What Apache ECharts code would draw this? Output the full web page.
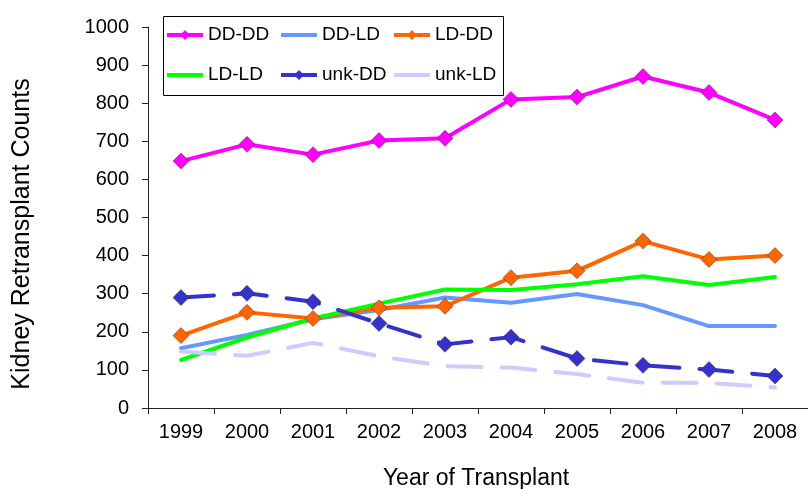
<!DOCTYPE html>
<html>
<head>
<meta charset="utf-8">
<script src="https://cdn.jsdelivr.net/npm/echarts@6/dist/echarts.min.js"></script>
<style>html,body{margin:0;padding:0;background:#fff}#c{width:808px;height:489px}</style>
</head>
<body>
<div id="c"></div>
<script>
const years = ['1999','2000','2001','2002','2003','2004','2005','2006','2007','2008'];
const ddDD  = [648, 692, 665, 702, 708, 810, 816, 870, 828, 756];
const ddLD  = [157, 192, 233, 257, 290, 276, 299, 270, 215, 215];
const ldDD  = [190, 251, 235, 263, 267, 342, 360, 438, 390, 400];
const ldLD  = [126, 185, 235, 274, 311, 310, 325, 346, 323, 344];
const unkDD = [290, 301, 279, 222, 167, 186, 130, 112, 101, 84];
const unkLD = [148, 137, 171, 136, 110, 106, 89, 66, 66, 54];
const yTicks = [0, 100, 200, 300, 400, 500, 600, 700, 800, 900, 1000];

const FONT = 'Liberation Sans, Arial, sans-serif';
const chart = echarts.init(document.getElementById('c'), null, {renderer: 'canvas'});

function mk(name, data, color, opts) {
  return {
    name, type: 'line', data,
    lineStyle: {color, width: 4, type: opts.dash || 'solid', cap: 'round', join: 'round'},
    itemStyle: {color, borderColor: 'rgba(60,30,30,0.45)', borderWidth: 1},
    symbol: opts.marker ? 'diamond' : 'none',
    symbolSize: 16,
    showSymbol: !!opts.marker,
    emphasis: {disabled: true},
    animation: false
  };
}

const series = [
  mk('DD-DD', ddDD, '#FF00FF', {marker: true}),
  mk('DD-LD', ddLD, '#6699FF', {}),
  mk('LD-DD', ldDD, '#FF6600', {marker: true}),
  mk('LD-LD', ldLD, '#00FF00', {}),
  mk('unk-DD', unkDD, '#3333CC', {marker: true, dash: [33, 20]}),
  mk('unk-LD', unkLD, '#CCCCFF', {dash: [34, 20]})
];

const ICON_MARK = 'path://M0,5L15,5L18,2L21,5L36,5L36,9L21,9L18,12L15,9L0,9Z';
const ICON_LINE = 'path://M0,0L36,0L36,4L0,4Z';
const legendPos = [
  ['DD-DD', 167, 25, true], ['DD-LD', 281, 25, false], ['LD-DD', 394, 25, true],
  ['LD-LD', 167, 65, false], ['unk-DD', 281, 65, true], ['unk-LD', 394, 65, false]
];
const legends = legendPos.map(([n, x, y, m]) => ({
  data: [{name: n, icon: m ? ICON_MARK : ICON_LINE}],
  left: x, top: y, padding: 0, itemWidth: 36, itemHeight: m ? 10 : 4,
  itemGap: 0, selectedMode: false,
  itemStyle: {borderWidth: 0},
  textStyle: {fontFamily: FONT, fontSize: 19, color: '#000', lineHeight: 20}
}));

chart.setOption({
  backgroundColor: '#fff',
  animation: false,
  grid: {left: 148, top: 27, bottom: 81, width: 664},
  legend: legends,
  xAxis: {
    type: 'category', data: years, boundaryGap: true,
    axisLine: {lineStyle: {color: '#222', width: 1}},
    axisTick: {show: true, length: 6, lineStyle: {color: '#222'}},
    axisLabel: {fontFamily: FONT, fontSize: 20, color: '#000', margin: 14}
  },
  yAxis: {
    type: 'value', min: yTicks[0], max: yTicks[yTicks.length - 1], interval: 100,
    splitLine: {show: false},
    axisLine: {show: true, lineStyle: {color: '#222', width: 1}},
    axisTick: {show: true, length: 6, lineStyle: {color: '#222'}},
    axisLabel: {fontFamily: FONT, fontSize: 20, color: '#000', margin: 19,
                formatter: v => String(v)}
  },
  graphic: [
    {type: 'rect', shape: {x: 163.5, y: 16.5, width: 340, height: 79},
     style: {fill: 'none', stroke: '#000', lineWidth: 1}, z: 100},
    {type: 'text', x: 22, y: 234, rotation: Math.PI / 2,
     style: {text: 'Kidney Retransplant Counts', fontFamily: FONT, fontSize: 25,
             fill: '#000', textAlign: 'center', textVerticalAlign: 'middle'}},
    {type: 'text', x: 476, y: 479,
     style: {text: 'Year of Transplant', fontFamily: FONT, fontSize: 23,
             fill: '#000', textAlign: 'center', textVerticalAlign: 'middle'}}
  ],
  series
});
</script>
</body>
</html>
